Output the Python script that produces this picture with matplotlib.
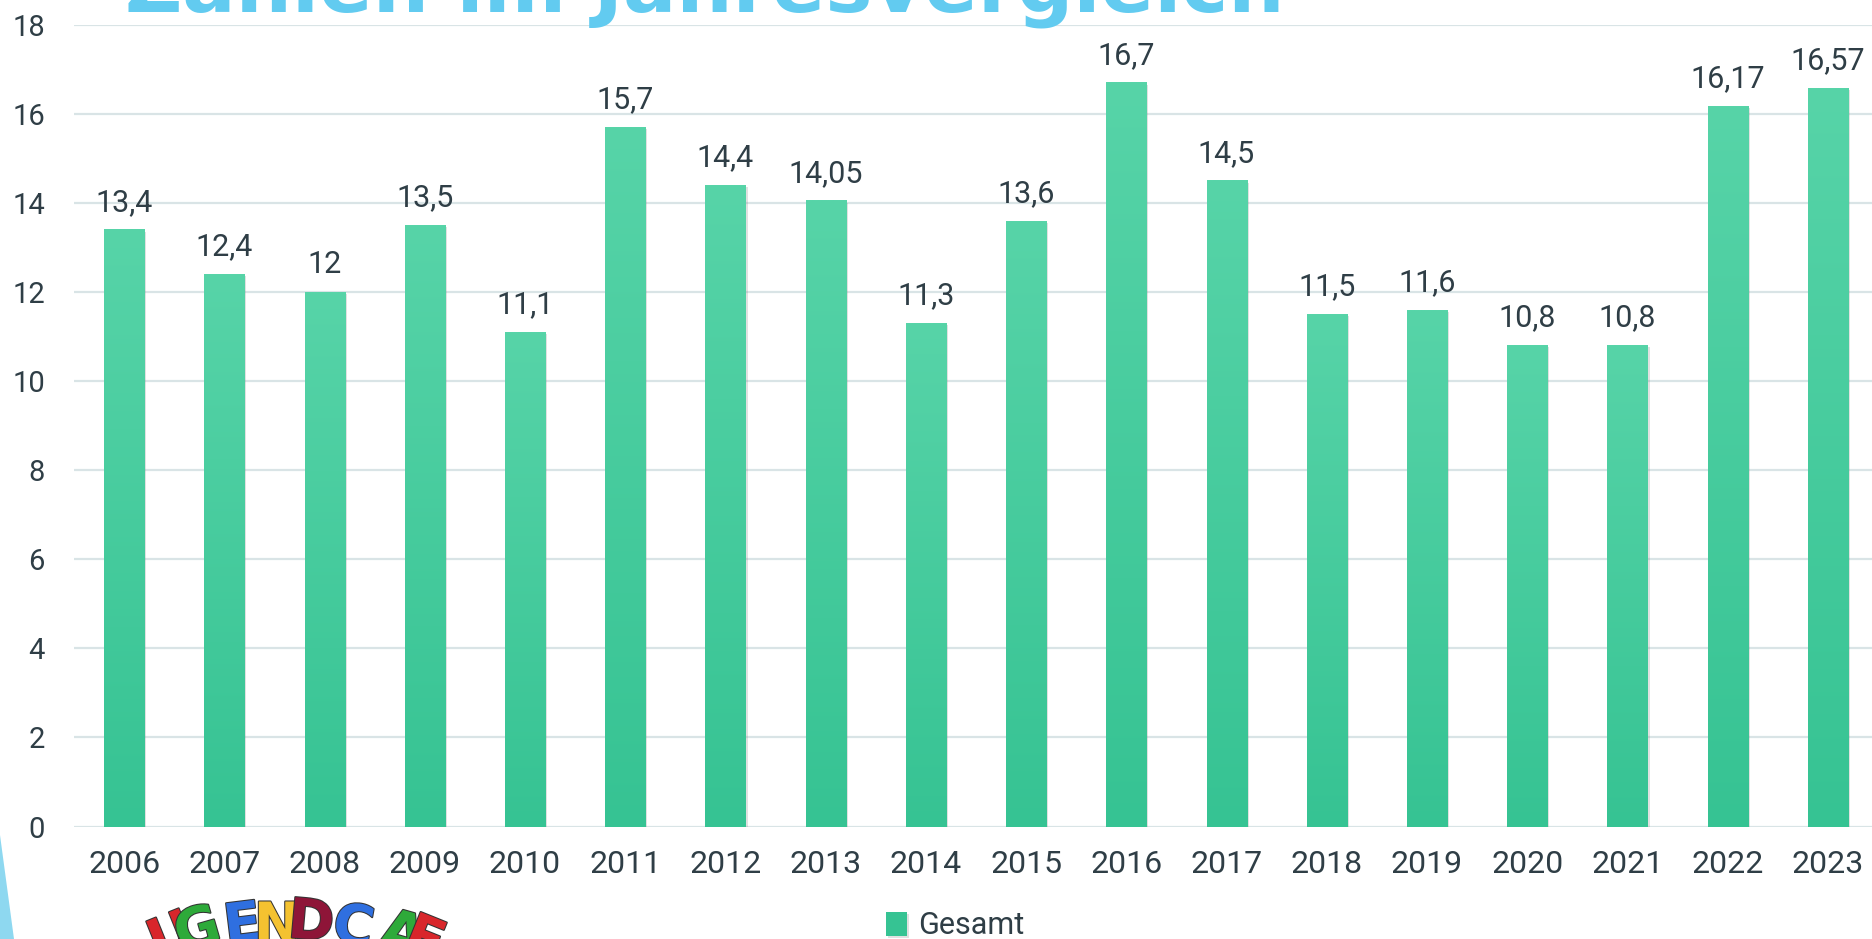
import numpy as np
import matplotlib
matplotlib.use('Agg')
import matplotlib.pyplot as plt
from matplotlib.colors import LinearSegmentedColormap
from matplotlib.patches import Polygon
import matplotlib.patheffects as pe

# data
years = ['2006', '2007', '2008', '2009', '2010', '2011', '2012', '2013', '2014',
         '2015', '2016', '2017', '2018', '2019', '2020', '2021', '2022', '2023']
values = [13.4, 12.4, 12, 13.5, 11.1, 15.7, 14.4, 14.05, 11.3,
          13.6, 16.7, 14.5, 11.5, 11.6, 10.8, 10.8, 16.17, 16.57]
yticks = [0, 2, 4, 6, 8, 10, 12, 14, 16, 18]
series_name = 'Gesamt'
title = 'Zahlen im Jahresvergleich'
logo_letters = ['U', 'G', 'E', 'N', 'D', 'C', 'A', 'F']
logo_colors = ['#D8262B', '#2EAA3A', '#2F6FE0', '#F4C230', '#8E1538', '#2F6FE0', '#2EAA3A', '#D8262B']

plt.rcParams['font.family'] = ['Roboto', 'DejaVu Sans']

txt_color = '#2F3E46'
grid_color = '#D9E4E6'
top_green = '#57D4A8'
bottom_green = '#36C393'

W, H = 1872, 939
fig = plt.figure(figsize=(W / 100, H / 100), dpi=100)
fig.patch.set_facecolor('white')

# axes runs a bit past the right edge, like the cropped slide
ax = fig.add_axes([74 / W, 1 - 826.5 / H, (1878 - 74) / W, (826.5 - 24.5) / H])
ax.set_facecolor('none')

x = np.arange(len(years))
bars = ax.bar(x, values, width=0.4, color=bottom_green, zorder=3,
              path_effects=[pe.SimplePatchShadow(offset=(1.5, -1.5), shadow_rgbFace='#888888', alpha=0.25),
                            pe.Normal()])

# vertical gradient per bar
cmap = LinearSegmentedColormap.from_list('bargrad', [bottom_green, top_green])
grad = np.linspace(0, 1, 256).reshape(-1, 1)
for b in bars:
    im = ax.imshow(grad, extent=[b.get_x(), b.get_x() + b.get_width(), 0, b.get_height()],
                   origin='lower', aspect='auto', cmap=cmap, zorder=3.5)
    im.set_clip_path(b)

for xi, v in zip(x, values):
    lab = '{:g}'.format(v).replace('.', ',')
    ax.annotate(lab, (xi, v), xytext=(0, 13.5), textcoords='offset points',
                ha='center', va='baseline', fontsize=22, color=txt_color, zorder=5)

ax.set_xlim(-0.5, len(years) - 0.5)
ax.set_ylim(0, 18)
ax.set_yticks(yticks)
ax.set_yticklabels([str(t) for t in yticks])
ax.set_xticks(x)
ax.set_xticklabels(years)
ax.grid(axis='y', color=grid_color, linewidth=1.6, zorder=0)
ax.set_axisbelow(True)
for s in ax.spines.values():
    s.set_visible(False)
ax.tick_params(axis='y', length=0, pad=21, labelsize=21, labelcolor=txt_color)
ax.tick_params(axis='x', length=0, pad=17, labelsize=23, labelcolor=txt_color)

# legend
leg = fig.legend([bars[0]], [series_name], loc='center', bbox_to_anchor=(955 / W, 1 - 926 / H),
                 frameon=False, fontsize=22, handlelength=0.7, handleheight=0.8,
                 handletextpad=0.35, borderpad=0, labelcolor=txt_color)

# slide title, cut off at the top
fig.text(125 / W, 1 - 11 / H, title, fontsize=57, fontweight='bold', color='#62CBF0',
         family='DejaVu Sans', ha='left', va='baseline')

# light blue slide decoration bottom left
fig.patches.append(Polygon([(0, 1 - 835 / H), (0, 0), (14 / W, 0)], closed=True,
                           transform=fig.transFigure, facecolor='#8ED8F0', edgecolor='none'))

# logo letters peeking in at the bottom
logo_x = [172, 198, 243, 277, 311, 353, 402, 424]
logo_y = [972, 964, 956, 954, 953, 959, 968, 973]
logo_rot = [22, 16, 7, 0, -5, -10, -16, -22]
for ch, c, lx, ly, r in zip(logo_letters, logo_colors, logo_x, logo_y, logo_rot):
    fig.text(lx / W, 1 - ly / H, ch, fontsize=40, fontweight='bold', color=c, family='DejaVu Sans',
             ha='center', va='bottom', rotation=r,
             path_effects=[pe.withStroke(linewidth=1.5, foreground='#333333')])

fig.savefig('out.png', dpi=100, facecolor='white')
